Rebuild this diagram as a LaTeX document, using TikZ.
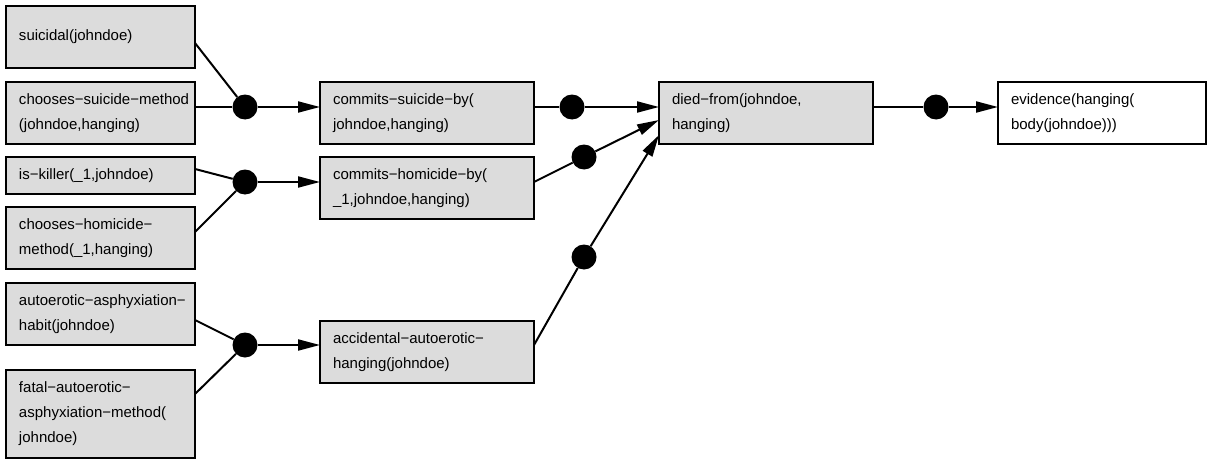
\documentclass[tikz,border=0pt]{standalone}
\usepackage{fontspec}
\setmainfont{Liberation Sans}
\definecolor{boxgray}{RGB}{220,220,220}
\usetikzlibrary{arrows.meta,positioning}

\begin{document}
\begin{tikzpicture}[x=1pt,y=-1pt,
    every node/.style={font=\fontsize{15}{25}\selectfont},
    gbox/.style={draw,fill=boxgray,line width=1.2pt,anchor=north west,
      inner xsep=13pt,inner ysep=0pt,outer sep=0pt,align=left},
    lbox/.style={gbox,text width=163pt,minimum height=62pt},
    mbox/.style={gbox,text width=188pt,minimum height=62pt},
    jdot/.style={circle,fill=black,minimum size=25pt,inner sep=0pt},
    edge/.style={line width=2pt},
    arr/.style={line width=2pt,-{Triangle[length=22pt,width=11pt]}}
    ]
    \useasboundingbox (0,0) rectangle (1207,460);

    % left column
    \node (s1) [lbox] at (6,6) {suicidal(johndoe)};
    \node (s2) [lbox] at (6,82) {chooses−suicide−method\\(johndoe,hanging)};
    \node (h1) [lbox,minimum height=37pt] at (6,157) {is−killer(\_1,johndoe)};
    \node (h2) [lbox] at (6,207) {chooses−homicide−\\method(\_1,hanging)};
    \node (a1) [lbox] at (6,283) {autoerotic−asphyxiation−\\habit(johndoe)};
    \node (a2) [lbox,minimum height=88pt] at (6,370) {fatal−autoerotic−\\asphyxiation−method(\\johndoe)};

    % middle column
    \node (m1) [mbox] at (320,82) {commits−suicide−by(\\johndoe,hanging)};
    \node (m2) [mbox] at (320,157) {commits−homicide−by(\\\_1,johndoe,hanging)};
    \node (m3) [mbox] at (320,321) {accidental−autoerotic−\\hanging(johndoe)};

    \node (df) [mbox] at (659,82) {died−from(johndoe,\\hanging)};
    \node (ev) [mbox,fill=white,text width=182pt] at (998,82) {evidence(hanging(\\body(johndoe)))};

    % the junctions
    \node (j1) [jdot] at (245,107) {};
    \node (j2) [jdot] at (245,182) {};
    \node (j3) [jdot] at (245,345) {};
    \node (j4) [jdot] at (572,107) {};
    \node (j5) [jdot] at (584,157) {};
    \node (j6) [jdot] at (584,257) {};
    \node (j7) [jdot] at (936,107) {};

    % the edges
    \draw[edge] ([yshift=-6pt]s1.east) -- (j1);
    \draw[edge] ([yshift=6pt]s2.east) -- (j1);
    \draw[edge] ([yshift=6.5pt]h1.east) -- (j2);
    \draw[edge] ([yshift=6pt]h2.east) -- (j2);
    \draw[edge] ([yshift=-6pt]a1.east) -- (j3);
    \draw[edge] ([yshift=20pt]a2.east) -- (j3);
    \draw[arr] (j1) -- (m1.west |- j1);
    \draw[arr] (j2) -- (m2.west |- j2);
    \draw[arr] (j3) -- (m3.west |- j3);
    \draw[edge] ([yshift=6pt]m1.east) -- (j4);
    \draw[edge] ([yshift=6pt]m2.east) -- (j5);
    \draw[edge] ([yshift=7pt]m3.east) -- (j6);
    \draw[arr] (j4) -- ([yshift=6pt]df.west);
    \draw[arr] (j5) -- ([yshift=-7pt]df.west);
    \draw[arr] (j6) -- ([yshift=-22pt]df.west);
    \draw[edge] ([yshift=6pt]df.east) -- (j7);
    \draw[arr] (j7) -- (ev.west |- j7);
\end{tikzpicture}
\end{document}
